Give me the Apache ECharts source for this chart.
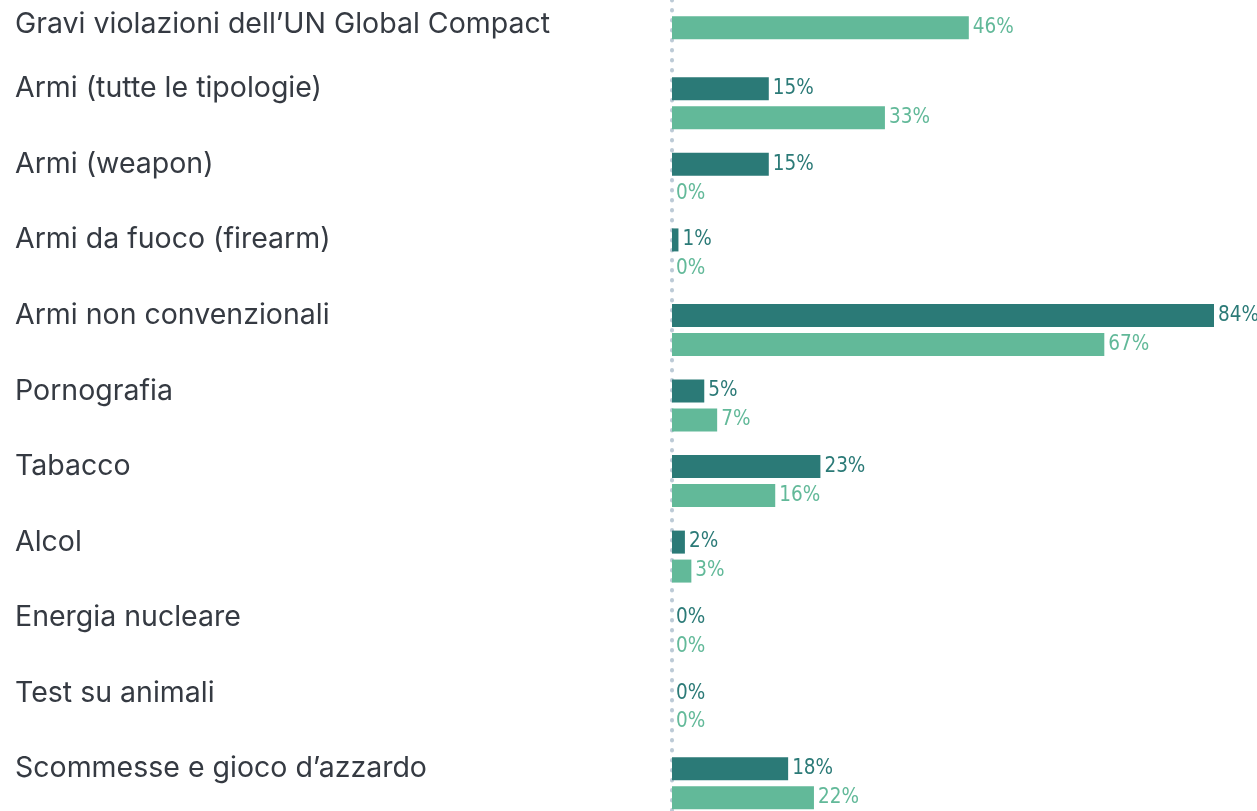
<!DOCTYPE html>
<html><head><meta charset="utf-8">
<script src="https://cdn.jsdelivr.net/npm/echarts@6/dist/echarts.min.js"></script>
<style>html,body{margin:0;padding:0;background:#fff;overflow:hidden;width:1257px;height:811px}
#c{position:absolute;left:0;top:-10px;width:1257px;height:831px}</style>
</head><body><div id="c"></div>
<script>
const categories = [
  "Gravi violazioni dell\u2019UN Global Compact",
  "Armi (tutte le tipologie)",
  "Armi (weapon)",
  "Armi da fuoco (firearm)",
  "Armi non convenzionali",
  "Pornografia",
  "Tabacco",
  "Alcol",
  "Energia nucleare",
  "Test su animali",
  "Scommesse e gioco d\u2019azzardo"
];
const darkValues  = [null, 15, 15, 1, 84, 5, 23, 2, 0, 0, 18];
const lightValues = [46, 33, 0, 0, 67, 7, 16, 3, 0, 0, 22];

const DARK = '#2b7a77', LIGHT = '#62b999';
const pctFont = "'DejaVu Sans Condensed','Liberation Sans Narrow',sans-serif";

// rows where only the light value exists are drawn as a single centred bar
const singleValues = lightValues.map((v, i) => darkValues[i] == null ? v : null);
const pairedLight = lightValues.map((v, i) => darkValues[i] == null ? null : v);

const lbl = (color) => ({
  show: true, position: 'right', distance: 4,
  formatter: p => p.value + '%',
  color: color, fontFamily: pctFont, fontSize: 20.5
});

const chart = echarts.init(document.getElementById('c'));
chart.setOption({
  animation: false,
  grid: { left: 672, right: 43, top: 0, bottom: 0, containLabel: false },
  xAxis: { type: 'value', min: 0, max: 84, show: false },
  yAxis: [{
    type: 'category', data: categories, inverse: true,
    axisLine: { show: true, lineStyle: { color: '#bccad6', width: 4, type: [0.5, 9.5], cap: 'round' } },
    axisTick: { show: false },
    axisLabel: {
      align: 'left', margin: 657,
      formatter: (v, i) => i === 0 ? '{a|' + v + '}' : '{b|' + v + '}',
      rich: {
        a: { fontFamily: 'Inter', fontSize: 28.5, color: '#353a42', padding: [0, 0, 6, 0] },
        b: { fontFamily: 'Inter', fontSize: 28.5, color: '#353a42', padding: [0, 0, 29, 0] }
      }
    }
  }, {
    type: 'category', data: categories, inverse: true, show: false
  }],
  series: [
    { type: 'bar', name: 'dark', data: darkValues, yAxisIndex: 0, barWidth: 23, barGap: '26%',
      itemStyle: { color: DARK }, label: lbl(DARK) },
    { type: 'bar', name: 'light', data: pairedLight, yAxisIndex: 0, barWidth: 23, barGap: '26%',
      itemStyle: { color: LIGHT }, label: lbl(LIGHT) },
    { type: 'bar', name: 'single', data: singleValues, yAxisIndex: 1, barWidth: 23,
      itemStyle: { color: LIGHT }, label: lbl(LIGHT) }
  ]
});
</script></body></html>
